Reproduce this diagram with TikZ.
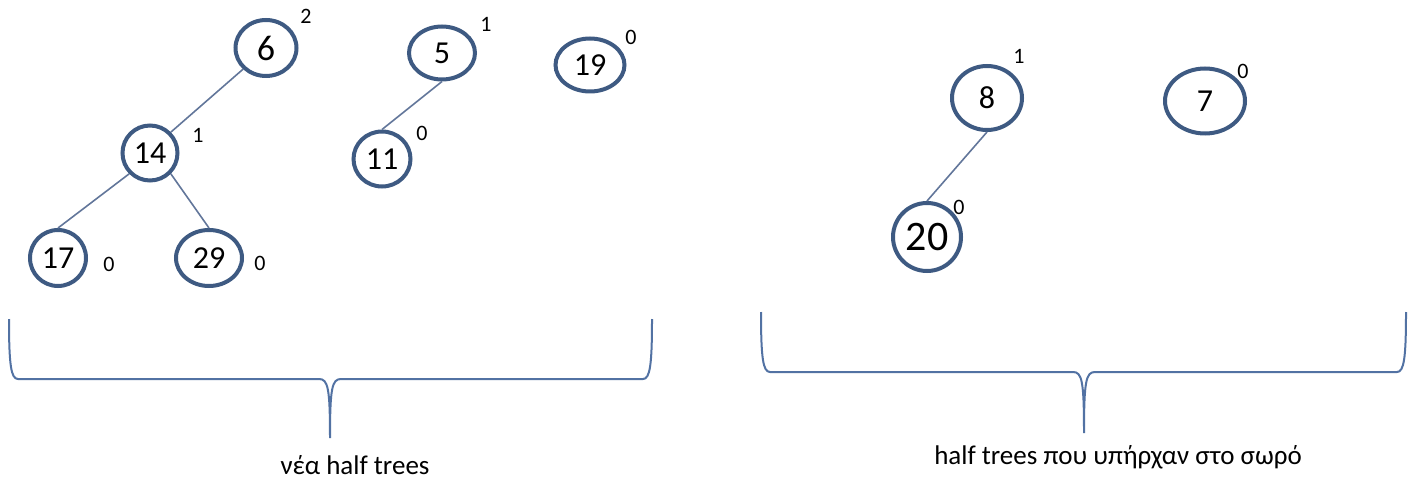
\documentclass[tikz,border=0pt]{standalone}
\usepackage{fontspec}
\setmainfont{Carlito}
\usepackage{xcolor}
\usetikzlibrary{positioning, shapes.geometric}
\definecolor{ringblue}{HTML}{3E5A82}
\definecolor{edgeblue}{HTML}{62769A}
\definecolor{braceblue}{HTML}{5272A3}

\begin{document}
\begin{tikzpicture}[
          x=1pt, y=-1pt,
          hnode/.style={ellipse, draw=ringblue, line width=4pt, fill=white, inner sep=0pt,
            font=\fontsize{32}{32}\selectfont},
          rank/.style={font=\fontsize{22}{22}\selectfont, inner sep=0pt},
          link/.style={draw=edgeblue, line width=1.6pt},
          brace/.style={draw=braceblue, line width=2pt},
          caption/.style={font=\fontsize{27}{30}\selectfont, inner sep=0pt}
        ]
          \useasboundingbox (0,0) rectangle (1416,481);

          \node[hnode, minimum width=61pt, minimum height=56pt, font=\fontsize{36}{36}\selectfont] (n6) at (266,48) {6};
          \node[hnode, minimum width=55pt, minimum height=55pt] (n14) at (150,153) {14};
          \node[hnode, minimum width=56pt, minimum height=56pt] (n17) at (58,258) {17};
          \node[hnode, minimum width=66pt, minimum height=56pt] (n29) at (209,258) {29};
          \node[hnode, minimum width=66pt, minimum height=53pt] (n5) at (442,53) {5};
          \node[hnode, minimum width=57pt, minimum height=55pt] (n11) at (382,159) {11};
          \node[hnode, minimum width=69pt, minimum height=53pt] (n19) at (590,65) {19};

          \node[hnode, minimum width=70pt, minimum height=64pt] (n8) at (987,98) {8};
          \node[hnode, minimum width=68pt, minimum height=68pt, font=\fontsize{42}{42}\selectfont] (n20) at (927,237) {20};
          \node[hnode, minimum width=80pt, minimum height=65pt] (n7) at (1205,101) {7};

          \draw[link] (n6.south west) -- (n14.north east);
          \draw[link] (n14.south west) -- (n17.north);
          \draw[link] (n14.south east) -- (n29.north);
          \draw[link] (n5.south) -- (n11.north);
          \draw[link] (n8.south) -- (n20.north);

          \node[rank] (r6) at (306,16) {2};
          \node[rank] (r14) at (198,135) {1};
          \node[rank] (r17) at (109,264) {0};
          \node[rank] (r29) at (260,263) {0};
          \node[rank] (r5) at (486,24) {1};
          \node[rank] (r11) at (422,133) {0};
          \node[rank] (r19) at (631,37) {0};
          \node[rank] (r8) at (1019,56) {1};
          \node[rank] (r20) at (959,207) {0};
          \node[rank] (r7) at (1243,71) {0};

          \draw[brace] (9,319) .. controls (9,365) and (11,379) .. (18,379) -- (319,379)
            .. controls (328,379) and (330,388) .. (330,438)
            .. controls (330,388) and (332,379) .. (341,379) -- (643,379)
            .. controls (650,379) and (652,365) .. (652,319);
          \draw[brace] (761,312) .. controls (761,358) and (763,372) .. (770,372) -- (1073,372)
            .. controls (1082,372) and (1084,381) .. (1084,433)
            .. controls (1084,381) and (1086,372) .. (1095,372) -- (1397,372)
            .. controls (1404,372) and (1406,358) .. (1406,312);

          \node[caption] (newtrees) at (355,465) {νέα half trees};
          \node[caption] (oldtrees) at (1118,457) {half trees που υπήρχαν στο σωρό};
        \end{tikzpicture}
\end{document}
